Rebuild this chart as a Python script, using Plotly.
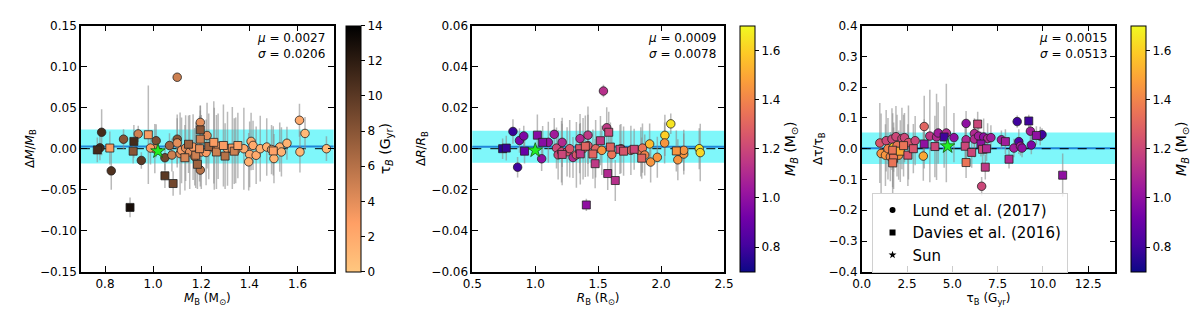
import plotly.graph_objects as go

# ---- panel 1: mass offset vs M_B, coloured by age ----
p1_lund_x = [0.786, 0.779, 0.826, 0.877, 0.938, 0.951, 1.0125, 1.007, 0.989, 1.049, 1.068, 1.078,
             1.10, 1.10, 1.10, 1.112, 1.118, 1.135, 1.152, 1.166, 1.173, 1.196, 1.196, 1.20,
             1.22, 1.224, 1.254, 1.27, 1.309, 1.343, 1.377, 1.407, 1.401, 1.397, 1.415, 1.428,
             1.445, 1.472, 1.492, 1.502, 1.526, 1.533, 1.556, 1.608, 1.61, 1.631, 1.72]
p1_lund_y = [0.020, 0.001, -0.027, 0.0116, 0.018, -0.0143, 0.0097, 0.0, 0.0008, -0.011, 0.0039, -0.0077,
             0.087, 0.0116, 0.007, -0.006, -0.002, 0.0008, -0.004, 0.002, -0.0097, 0.032, -0.026, -0.004,
             -0.0046, 0.016, 0.0, 0.003, 0.0, -0.002, 0.0, 0.0089, -0.007, -0.016, 0.004, -0.008,
             0.0, 0.002, -0.001, -0.012, 0.002, -0.004, 0.0066, 0.0346, -0.0039, 0.0186, 0.0]
p1_lund_err = [0.028, 0.015, 0.023, 0.012, 0.010, 0.010, 0.020, 0.030, 0.020, 0.015, 0.015, 0.020,
               0.003, 0.030, 0.030, 0.050, 0.040, 0.040, 0.045, 0.040, 0.035, 0.020, 0.020, 0.045,
               0.040, 0.040, 0.050, 0.040, 0.045, 0.040, 0.050, 0.035, 0.040, 0.035, 0.030, 0.035,
               0.040, 0.035, 0.030, 0.030, 0.030, 0.030, 0.020, 0.020, 0.025, 0.020, 0.015]
p1_lund_c = [11, 11, 10.5, 8, 5, 10, 8.5, 4, 3, 9, 7, 5,
             5, 8, 4, 4, 3, 4, 4, 3, 3, 4, 6, 3,
             3, 4, 3, 3, 2, 2, 2, 2, 2, 1.5, 2, 2,
             1.5, 1.5, 1.5, 1.5, 1.5, 1.5, 1.5, 2, 1, 1, 1]

p1_dav_x = [0.768, 0.82, 0.92, 0.917, 0.98, 0.904, 1.049, 1.083, 1.132, 1.147, 1.177, 1.184,
            1.196, 1.196, 1.193, 1.231, 1.252, 1.263, 1.292, 1.299, 1.329, 1.337, 1.352, 1.499]
p1_dav_y = [-0.0015, 0.0008, 0.0089, -0.003, 0.017, -0.0715, -0.033, -0.0424, -0.011, 0.0054, -0.008, -0.019,
            0.023, 0.0116, 0.0, 0.0027, 0.0077, -0.004, 0.0039, -0.009, 0.0008, -0.003, 0.0039, -0.0027]
p1_dav_err = [0.015, 0.020, 0.020, 0.015, 0.060, 0.012, 0.015, 0.015, 0.040, 0.035, 0.040, 0.030,
              0.030, 0.035, 0.040, 0.040, 0.050, 0.045, 0.050, 0.040, 0.050, 0.040, 0.040, 0.030]
p1_dav_c = [11, 3, 11, 8, 3, 13, 10, 9, 4.5, 7, 5, 7,
            8, 5, 4, 7, 3, 5, 3, 6, 3, 5, 2.5, 2.5]

p1_sun = (1.02, -0.003)

# ---- panel 2: radius offset vs R_B, coloured by mass ----
p2_lund_x = [0.823, 0.86, 0.875, 0.909, 1.051, 1.104, 1.151, 1.169, 1.182, 1.214, 1.209, 1.253,
             1.274, 1.30, 1.327, 1.356, 1.38, 1.419, 1.419, 1.48, 1.542, 1.568, 1.529, 1.608,
             1.681, 1.76, 1.839, 1.852, 1.87, 1.909, 1.917, 1.97, 2.03, 2.028, 2.077, 2.133,
             2.18, 2.18, 2.303, 2.311]
p2_lund_y = [0.0084, -0.0090, 0.0040, 0.0062, -0.0049, 0.0031, 0.0070, 0.0003, -0.003, 0.0031, -0.0015, -0.0015,
             0.0, -0.0043, -0.003, 0.0049, 0.0, 0.0066, 0.0015, 0.0, 0.0281, 0.0102, -0.0008, -0.0028,
             0.0, -0.0008, -0.0015, 0.0003, -0.0031, 0.0023, -0.0065, -0.0042, 0.0065, 0.0028, 0.0121, -0.0054,
             -0.0026, -0.0008, 0.0, -0.0019]
p2_lund_err = [0.006, 0.005, 0.006, 0.005, 0.006, 0.010, 0.008, 0.010, 0.012, 0.012, 0.015, 0.012,
               0.014, 0.010, 0.016, 0.012, 0.015, 0.014, 0.015, 0.014, 0.003, 0.010, 0.012, 0.012,
               0.012, 0.012, 0.012, 0.012, 0.010, 0.010, 0.010, 0.010, 0.010, 0.010, 0.005, 0.010,
               0.010, 0.010, 0.010, 0.014]
p2_lund_c = [0.78, 0.80, 0.95, 0.95, 1.0, 1.02, 1.05, 1.2, 1.2, 1.1, 1.2, 1.25,
             1.25, 1.1, 1.25, 1.1, 1.3, 1.15, 1.25, 1.3, 1.12, 1.15, 1.45, 1.35,
             1.3, 1.3, 1.4, 1.35, 1.4, 1.55, 1.45, 1.45, 1.6, 1.45, 1.65, 1.45,
             1.45, 1.45, 1.65, 1.62]

p2_dav_x = [0.741, 0.770, 0.915, 1.017, 1.059, 1.214, 1.353, 1.358, 1.398, 1.406, 1.458,
            1.476, 1.518, 1.576, 1.584, 1.597, 1.636, 1.673, 1.702, 1.786, 1.846, 2.121]
p2_dav_y = [0.0, 0.0003, -0.0012, 0.0066, 0.0031, -0.0028, 0.0, -0.0025, 0.0012, -0.0274, -0.0026,
            -0.0073, 0.0039, -0.0121, 0.0080, 0.0008, -0.0155, -0.0003, -0.0012, -0.0003, -0.0046, -0.0011]
p2_dav_err = [0.005, 0.006, 0.006, 0.010, 0.008, 0.015, 0.012, 0.015, 0.015, 0.003, 0.012,
              0.012, 0.012, 0.008, 0.010, 0.012, 0.010, 0.012, 0.012, 0.010, 0.010, 0.010]
p2_dav_c = [0.75, 0.78, 0.90, 0.98, 0.98, 1.2, 1.25, 1.15, 1.3, 1.0, 1.3,
            1.15, 1.15, 1.1, 1.2, 1.3, 1.12, 1.2, 1.25, 1.2, 1.3, 1.45]

p2_sun = (1.0, -0.0008)

# ---- panel 3: age offset vs tau_B, coloured by mass ----
p3_lund_x = [1.0, 1.07, 1.35, 1.31, 1.45, 1.58, 1.67, 1.76, 1.89, 1.95, 2.04, 2.22,
             2.36, 2.58, 2.95, 3.4, 3.45, 3.76, 4.13, 4.22, 4.67, 5.09, 5.76, 5.76,
             6.22, 6.22, 6.45, 6.62, 6.73, 6.95, 7.13, 7.71, 8.4, 8.58, 8.67, 8.76,
             8.85, 9.31, 9.36, 9.85, 9.95]
p3_lund_y = [0.0186, -0.0155, 0.026, -0.021, 0.0, -0.026, 0.031, 0.005, 0.039, 0.010, -0.021, 0.033,
             0.036, 0.020, 0.026, -0.024, 0.072, 0.041, 0.038, 0.051, 0.051, 0.036, 0.082, 0.029,
             0.049, 0.031, 0.041, -0.122, 0.038, 0.033, 0.036, 0.029, 0.002, 0.088, 0.023, 0.008,
             0.002, 0.057, 0.012, 0.041, 0.046]
p3_lund_err = [0.13, 0.13, 0.10, 0.10, 0.10, 0.08, 0.10, 0.08, 0.10, 0.10, 0.08, 0.10,
               0.08, 0.12, 0.08, 0.08, 0.10, 0.15, 0.14, 0.10, 0.16, 0.08, 0.04, 0.06,
               0.05, 0.06, 0.05, 0.03, 0.06, 0.05, 0.04, 0.03, 0.03, 0.02, 0.04, 0.03,
               0.03, 0.04, 0.03, 0.03, 0.02]
p3_lund_c = [1.25, 1.45, 1.2, 1.45, 1.4, 1.4, 1.2, 1.6, 1.2, 1.35, 1.45, 1.2,
             1.2, 1.25, 1.2, 1.5, 1.3, 1.15, 1.1, 1.05, 1.1, 1.0, 1.0, 1.1,
             1.1, 1.1, 1.05, 1.2, 1.0, 1.1, 1.05, 1.05, 1.05, 0.8, 0.85, 1.05,
             1.0, 1.05, 0.95, 1.0, 0.8]

p3_dav_x = [1.71, 1.76, 1.71, 2.13, 2.31, 2.55, 2.85, 3.45, 4.04, 4.55, 5.71, 5.76,
            6.07, 6.4, 6.58, 6.67, 6.82, 6.89, 7.93, 8.13, 9.22, 9.64, 11.09]
p3_dav_y = [-0.005, -0.031, -0.046, -0.008, 0.010, -0.021, 0.0, 0.0155, 0.007, 0.038, 0.008, -0.045,
            -0.012, 0.080, 0.015, -0.002, -0.060, 0.0, 0.023, -0.034, 0.090, 0.043, -0.086]
p3_dav_err = [0.12, 0.10, 0.10, 0.10, 0.10, 0.10, 0.08, 0.08, 0.10, 0.10, 0.06, 0.05,
              0.05, 0.04, 0.04, 0.05, 0.04, 0.04, 0.04, 0.03, 0.02, 0.03, 0.07]
p3_dav_c = [1.35, 1.35, 1.35, 1.5, 1.35, 1.25, 1.25, 1.0, 1.2, 0.8, 1.2, 1.35,
            1.2, 1.2, 1.0, 1.2, 1.15, 1.1, 1.05, 1.1, 0.8, 1.0, 1.0]

p3_sun = (4.74, 0.008)

stats = [(0.0027, 0.0206), (0.0009, 0.0078), (0.0015, 0.0513)]

FONT = "DejaVu Sans"
copper_r = [[0.0, "rgb(255,199,127)"], [0.2, "rgb(255,159,101)"], [1.0, "rgb(0,0,0)"]]

fig = go.Figure()

panels = [
    (p1_lund_x, p1_lund_y, p1_lund_err, p1_lund_c, p1_dav_x, p1_dav_y, p1_dav_err, p1_dav_c, p1_sun, "coloraxis"),
    (p2_lund_x, p2_lund_y, p2_lund_err, p2_lund_c, p2_dav_x, p2_dav_y, p2_dav_err, p2_dav_c, p2_sun, "coloraxis2"),
    (p3_lund_x, p3_lund_y, p3_lund_err, p3_lund_c, p3_dav_x, p3_dav_y, p3_dav_err, p3_dav_c, p3_sun, "coloraxis3"),
]

for i, (lx, ly, le, lc, dx, dy, de, dc, sun, cax) in enumerate(panels):
    xa = "x" if i == 0 else "x%d" % (i + 1)
    ya = "y" if i == 0 else "y%d" % (i + 1)
    # error bars first so markers sit on top
    for xs, ys, es in [(lx, ly, le), (dx, dy, de)]:
        fig.add_trace(go.Scatter(
            x=xs, y=ys, mode="markers", xaxis=xa, yaxis=ya, showlegend=False,
            marker=dict(size=1, opacity=0), hoverinfo="skip",
            error_y=dict(type="data", array=es, visible=True, color="rgba(140,140,140,0.6)",
                         thickness=1.5, width=0)))
    fig.add_trace(go.Scatter(
        x=lx, y=ly, mode="markers", xaxis=xa, yaxis=ya, showlegend=False,
        marker=dict(symbol="circle", size=8.5, color=lc, coloraxis=cax,
                    line=dict(color="#222", width=0.8))))
    fig.add_trace(go.Scatter(
        x=dx, y=dy, mode="markers", xaxis=xa, yaxis=ya, showlegend=False,
        marker=dict(symbol="square", size=8, color=dc, coloraxis=cax,
                    line=dict(color="#222", width=0.8))))
    fig.add_trace(go.Scatter(
        x=[sun[0]], y=[sun[1]], mode="markers", xaxis=xa, yaxis=ya, showlegend=False,
        marker=dict(symbol="star", size=11, color="#22ee22", line=dict(color="#115511", width=0.8))))

    mu, sig = stats[i]
    fig.add_shape(type="rect", xref=xa + " domain", yref=ya, x0=0, x1=1, y0=mu - sig, y1=mu + sig,
                  fillcolor="rgba(0,240,245,0.5)", line=dict(width=0), layer="below")
    fig.add_shape(type="line", xref=xa + " domain", yref=ya, x0=0, x1=1, y0=mu, y1=mu,
                  line=dict(color="#1f86d9", width=2), layer="below")
    fig.add_shape(type="line", xref=xa + " domain", yref=ya, x0=0, x1=1, y0=0, y1=0,
                  line=dict(color="black", width=1, dash="dash"), layer="below")
    fig.add_annotation(xref=xa + " domain", yref=ya + " domain", x=0.975, y=0.985,
                       xanchor="right", yanchor="top", align="right", showarrow=False,
                       text="<i>μ</i> = %.4f<br><i>σ</i> = %.4f" % (mu, sig),
                       font=dict(family=FONT, size=12, color="black"))

# legend entries
for name, sym in [("Lund et al. (2017)", "circle"), ("Davies et al. (2016)", "square"), ("Sun", "star")]:
    fig.add_trace(go.Scatter(x=[None], y=[None], mode="markers", name=name, xaxis="x3", yaxis="y3",
                             marker=dict(symbol=sym, size=6, color="black")))

W, H = 1200, 311
ytop, ybot = 11, 269
ydom = [1 - ybot / H, 1 - ytop / H]
xdoms = [[64 / W, 321 / W], [462 / W, 718 / W], [858 / W, 1116 / W]]
xranges = [[0.7, 1.75], [0.5, 2.5], [0, 14]]
yranges = [[-0.15, 0.15], [-0.06, 0.06], [-0.4, 0.4]]
xticks = [[0.8, 1.0, 1.2, 1.4, 1.6], [0.5, 1.0, 1.5, 2.0, 2.5], [0, 2.5, 5, 7.5, 10, 12.5]]
yticks = [[-0.15, -0.10, -0.05, 0, 0.05, 0.10, 0.15],
          [-0.06, -0.04, -0.02, 0, 0.02, 0.04, 0.06],
          [-0.4, -0.3, -0.2, -0.1, 0, 0.1, 0.2, 0.3, 0.4]]
yfmt = [".2f", ".2f", ".1f"]
xtitles = ["<i>M</i><sub>B</sub> (M<sub>⊙</sub>)", "<i>R</i><sub>B</sub> (R<sub>⊙</sub>)",
           "τ<sub>B</sub> (G<sub>yr</sub>)"]
ytitles = ["Δ<i>M</i>/<i>M</i><sub>B</sub>", "Δ<i>R</i>/<i>R</i><sub>B</sub>", "Δτ/τ<sub>B</sub>"]

axis_style = dict(showline=True, linecolor="black", linewidth=1.5, mirror="ticks", ticks="inside",
                  ticklen=6, tickwidth=1.3, tickcolor="black", showgrid=False, zeroline=False,
                  tickfont=dict(family=FONT, size=12, color="black"))

layout = {}
for i in range(3):
    sx = "" if i == 0 else str(i + 1)
    layout["xaxis" + sx] = dict(axis_style, domain=xdoms[i], range=xranges[i], tickvals=xticks[i],
                               tickformat=".1f", anchor="y" + sx,
                               title=dict(text=xtitles[i], standoff=2, font=dict(family=FONT, size=12)))
    layout["yaxis" + sx] = dict(axis_style, domain=ydom, range=yranges[i], tickvals=yticks[i],
                               tickformat=yfmt[i], anchor="x" + sx,
                               title=dict(text=ytitles[i], standoff=3, font=dict(family=FONT, size=12)))


def cbar(x0, title, tickvals, fmt):
    return dict(x=x0 / W, xanchor="left", xref="paper", thickness=15, thicknessmode="pixels",
                len=(ybot - ytop) / H, lenmode="fraction", y=1 - (ytop + ybot) / 2 / H, yanchor="middle",
                xpad=0, ypad=0, outlinewidth=1, outlinecolor="black", ticks="outside", ticklen=4,
                tickcolor="black", tickvals=tickvals, tickformat=fmt,
                tickfont=dict(family=FONT, size=12, color="black"),
                title=dict(text=title, side="right", font=dict(family=FONT, size=14, color="black")))


mass_ticks = [0.8, 1.0, 1.2, 1.4, 1.6]
mass_title = "<i>M<sub>B</sub></i> (M<sub>⊙</sub>)"
layout["coloraxis"] = dict(colorscale=copper_r, cmin=0, cmax=14,
                           colorbar=cbar(334, "τ<sub><i>B</i></sub> (G<sub>yr</sub>)", list(range(0, 15, 2)), "d"))
layout["coloraxis2"] = dict(colorscale="Plasma", cmin=0.7, cmax=1.7,
                            colorbar=cbar(734, mass_title, mass_ticks, ".1f"))
layout["coloraxis3"] = dict(colorscale="Plasma", cmin=0.7, cmax=1.7,
                            colorbar=cbar(1132, mass_title, mass_ticks, ".1f"))

fig.update_layout(**layout)
fig.update_layout(
    width=W, height=H, margin=dict(l=0, r=0, t=0, b=0),
    paper_bgcolor="white", plot_bgcolor="white",
    font=dict(family=FONT, size=12, color="black"),
    legend=dict(x=868 / W, y=1 - 186 / H, xanchor="left", yanchor="top",
                bgcolor="rgba(255,255,255,0.8)", bordercolor="#d0d0d0", borderwidth=1,
                font=dict(family=FONT, size=15, color="black"), tracegroupgap=0),
)

fig.write_html("out.html")
